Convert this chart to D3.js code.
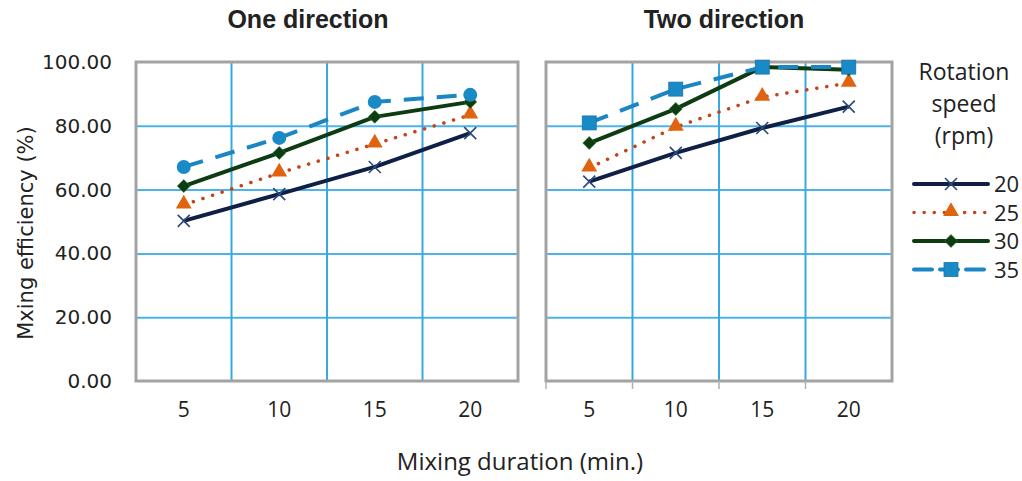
<!DOCTYPE html>
<html>
<head>
<meta charset="utf-8">
<script src="https://cdn.jsdelivr.net/npm/d3@7"></script>
<style>
  body { margin: 0; background: #fff; }
  svg { display: block; }
  text { font-family: "Liberation Sans", Arial, sans-serif; fill: #222; }
</style>
</head>
<body>
<div id="chart"></div>
<script>
const durations = ['5', '10', '15', '20']
const speeds = ['20', '25', '30', '35']
const yTicks = [0, 20, 40, 60, 80, 100]

// One direction, one array per rotation speed
const one20 = [50.2, 58.6, 67.1, 77.7]
const one25 = [55.2, 65.2, 74.3, 83.4]
const one30 = [61.1, 71.5, 82.8, 87.5]
const one35 = [67.1, 76.2, 87.5, 89.7]

// Two direction
const two20 = [62.5, 71.5, 79.3, 86.0]
const two25 = [66.8, 79.6, 89.0, 93.4]
const two30 = [74.6, 85.3, 98.4, 97.6]
const two35 = [80.9, 91.5, 98.4, 98.4]

const styles = {
  '20': { color: '#0f1f45', width: 4, dash: null, marker: 'x', mColor: '#2b4a7a' },
  '25': { color: '#c0461a', width: 3.5, dash: '0.1 10', cap: 'round', marker: 'tri', mColor: '#e0640f' },
  '30': { color: '#0d3b12', width: 4, dash: null, marker: 'diamond', mColor: '#0d3b12' },
  '35': { color: '#1a86c4', width: 4, dash: '20 13', marker: 'circle', mColor: '#1a8ac6' },
}

const panels = [
  { title: 'One direction', left: 136, right: 518, series: [one20, one25, one30, one35], marker35: 'circle', ticks: false, titleX: 308 },
  { title: 'Two direction', left: 546, right: 892, series: [two20, two25, two30, two35], marker35: 'square', ticks: true, titleX: 724 },
]

const W = 1022, H = 481
const plotTop = 62, plotBottom = 381

const svg = d3.select('#chart').append('svg').attr('width', W).attr('height', H)

const y = d3.scaleLinear().domain([0, 100]).range([plotBottom, plotTop])

function drawMarker(g, type, cx, cy, color) {
  if (type === 'x') {
    const s = 6
    g.append('path')
      .attr('d', `M${cx - s},${cy - s}L${cx + s},${cy + s}M${cx - s},${cy + s}L${cx + s},${cy - s}`)
      .attr('stroke', color).attr('stroke-width', 1.6).attr('fill', 'none')
  } else if (type === 'tri') {
    g.append('path')
      .attr('d', d3.symbol(d3.symbolTriangle, 110)())
      .attr('transform', `translate(${cx},${cy - 1})`)
      .attr('fill', color)
  } else if (type === 'diamond') {
    g.append('path')
      .attr('d', `M${cx},${cy - 6.5}L${cx + 6.5},${cy}L${cx},${cy + 6.5}L${cx - 6.5},${cy}Z`)
      .attr('fill', color).attr('stroke', '#2a7a2a').attr('stroke-width', 0.6)
  } else if (type === 'circle') {
    g.append('circle').attr('cx', cx).attr('cy', cy).attr('r', 7).attr('fill', color)
  } else if (type === 'square') {
    g.append('rect').attr('x', cx - 7).attr('y', cy - 7).attr('width', 14).attr('height', 14)
      .attr('fill', color).attr('stroke', '#1576ad').attr('stroke-width', 0.8)
  }
}

panels.forEach((p, pi) => {
  const x = d3.scaleBand().domain(durations).range([p.left, p.right])
  const g = svg.append('g')

  // horizontal gridlines
  g.append('g')
    .attr('transform', `translate(${p.left},0)`)
    .call(d3.axisRight(y).tickValues([20, 40, 60, 80]).tickSize(p.right - p.left).tickFormat(''))
    .call(a => a.select('.domain').remove())
    .call(a => a.selectAll('line').attr('stroke', '#4cb4e8').attr('stroke-width', 2))

  // vertical gridlines at category boundaries
  const bounds = durations.slice(1).map(d => x(d))
  g.selectAll('.vgrid').data(bounds).enter().append('line')
    .attr('x1', d => d).attr('x2', d => d).attr('y1', plotTop).attr('y2', plotBottom)
    .attr('stroke', '#3aa8e0').attr('stroke-width', 2)

  // frame
  g.append('rect')
    .attr('x', p.left).attr('y', plotTop)
    .attr('width', p.right - p.left).attr('height', plotBottom - plotTop)
    .attr('fill', 'none').attr('stroke', '#a3a3a3').attr('stroke-width', 3)

  // x axis labels
  const xa = g.append('g')
    .attr('transform', `translate(0,${plotBottom})`)
    .call(d3.axisBottom(x).tickSize(0).tickPadding(21))
  xa.select('.domain').remove()
  xa.selectAll('text').style('font-size', '21px').style('font-family', '"Open Sans", sans-serif').attr('fill', '#222')

  if (p.ticks) {
    g.selectAll('.xtick').data([p.left].concat(bounds)).enter().append('line')
      .attr('x1', d => d).attr('x2', d => d).attr('y1', plotBottom).attr('y2', plotBottom + 8)
      .attr('stroke', '#b0b0b0').attr('stroke-width', 1.5)
  }

  // y axis labels, left panel only
  if (pi === 0) {
    const ya = g.append('g')
      .attr('transform', `translate(${p.left},0)`)
      .call(d3.axisLeft(y).tickValues(yTicks).tickSize(0).tickPadding(24).tickFormat(d3.format('.2f')))
    ya.select('.domain').remove()
    ya.selectAll('text').style('font-size', '20px').style('font-family', '"DejaVu Sans", sans-serif').attr('fill', '#222')
  }

  // title
  g.append('text')
    .attr('x', p.titleX).attr('y', 28)
    .attr('text-anchor', 'middle')
    .style('font-size', '25px').style('font-weight', 'bold')
    .text(p.title)

  // series
  const line = d3.line()
    .x((d, i) => x(durations[i]) + x.bandwidth() / 2)
    .y(d => y(d))

  p.series.forEach((vals, si) => {
    const st = styles[speeds[si]]
    g.append('path')
      .datum(vals)
      .attr('d', line)
      .attr('fill', 'none')
      .attr('stroke', st.color)
      .attr('stroke-width', st.width)
      .attr('stroke-dasharray', st.dash)
      .attr('stroke-linecap', st.cap || 'butt')
      .attr('stroke-linejoin', 'round')
    const marker = speeds[si] === '35' ? p.marker35 : st.marker
    vals.forEach((v, i) => {
      drawMarker(g, marker, x(durations[i]) + x.bandwidth() / 2, y(v), st.mColor)
    })
  })
})

// y axis title
svg.append('text')
  .attr('transform', 'translate(33,233) rotate(-90)')
  .attr('text-anchor', 'middle')
  .style('font-size', '21px').style('font-family', '"DejaVu Sans", sans-serif')
  .text('Mxing efficiency (%)')

// x axis title
svg.append('text')
  .attr('x', 520).attr('y', 470)
  .attr('text-anchor', 'middle')
  .style('font-size', '24px').style('font-family', '"Open Sans", sans-serif')
  .text('Mixing duration (min.)')

// legend
const lg = svg.append('g')
const legendTitle = ['Rotation', 'speed', '(rpm)']
lg.selectAll('.lt').data(legendTitle).enter().append('text')
  .attr('x', 964).attr('y', (d, i) => 80 + i * 32)
  .attr('text-anchor', 'middle')
  .style('font-size', '23px').style('font-family', '"Open Sans", sans-serif')
  .text(d => d)

speeds.forEach((s, i) => {
  const st = styles[s]
  const ly = 184 + i * 28.5
  lg.append('line')
    .attr('x1', 914).attr('x2', 988).attr('y1', ly).attr('y2', ly)
    .attr('stroke', st.color).attr('stroke-width', st.width)
    .attr('stroke-dasharray', s === '35' ? '18 8' : st.dash)
    .attr('stroke-linecap', st.cap || 'round')
  drawMarker(lg, s === '35' ? 'square' : st.marker, 951, ly, st.mColor)
  lg.append('text')
    .attr('x', 994).attr('y', ly + 8)
    .style('font-size', '22px').style('font-family', '"Open Sans", sans-serif')
    .text(s)
})
</script>
</body>
</html>
